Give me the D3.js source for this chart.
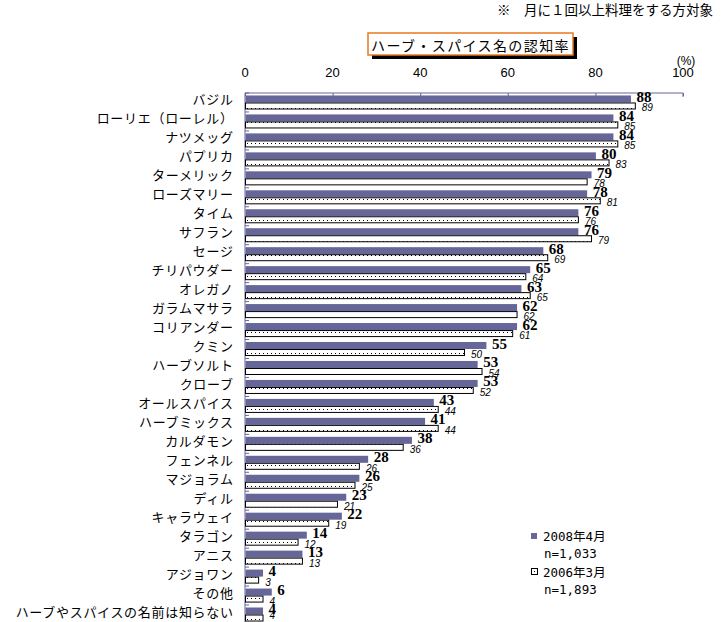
<!DOCTYPE html>
<html><head><meta charset="utf-8">
<script src="https://cdn.jsdelivr.net/npm/d3@7"></script>
<style>
body{margin:0;background:#fff;}
svg{display:block;}
</style></head>
<body>
<script>
const categories = ["バジル","ローリエ（ローレル）","ナツメッグ","パプリカ","ターメリック","ローズマリー","タイム","サフラン","セージ","チリパウダー","オレガノ","ガラムマサラ","コリアンダー","クミン","ハーブソルト","クローブ","オールスパイス","ハーブミックス","カルダモン","フェンネル","マジョラム","ディル","キャラウェイ","タラゴン","アニス","アジョワン","その他","ハーブやスパイスの名前は知らない"];
const values2008 = [88,84,84,80,79,78,76,76,68,65,63,62,62,55,53,53,43,41,38,28,26,23,22,14,13,4,6,4];
const values2006 = [89,85,85,83,78,81,76,79,69,64,65,62,61,50,54,52,44,44,36,26,25,21,19,12,13,3,4,4];
const seriesNames = ["2008年4月","2006年3月"];
const seriesN = ["n=1,033","n=1,893"];
const xTicks = [0,20,40,60,80,100];
const titleText = "ハーブ・スパイス名の認知率";
const noteText = "※　月に１回以上料理をする方対象";

const W = 721, H = 622;
const jp = "'Noto Sans CJK JP', 'Noto Sans', sans-serif";
const mono = "'DejaVu Sans Mono', 'Liberation Mono', 'Noto Sans CJK JP', monospace";
const svg = d3.select("body").append("svg").attr("width", W).attr("height", H);

const defs = svg.append("defs");
const pat = defs.append("pattern").attr("id","dots").attr("patternUnits","userSpaceOnUse")
  .attr("width",4).attr("height",7).attr("x",246).attr("y",0);
pat.append("rect").attr("width",4).attr("height",7).attr("fill","#fff");
pat.append("rect").attr("x",1).attr("y",3).attr("width",1).attr("height",1).attr("fill","#000");

const x = d3.scaleLinear().domain([0,100]).range([245,683]);
const y = d3.scaleBand().domain(categories).range([93,624]).paddingInner(0.26).paddingOuter(0.13);
const ys = d3.scaleBand().domain([0,1]).range([0,y.bandwidth()]);
const axisColor = "#666699";
const blue = "#666699";

// note
svg.append("text").attr("x",497).attr("y",9).attr("dominant-baseline","central")
  .style("font-family",jp).style("font-size","13.5px").attr("fill","#000").text(noteText);

// title box
svg.append("rect").attr("x",372).attr("y",37).attr("width",205).attr("height",22).attr("fill","#000");
svg.append("rect").attr("x",368).attr("y",33).attr("width",205).attr("height",22).attr("fill","#fff")
  .attr("stroke","#e87a22").attr("stroke-width",1.5);
svg.append("text").attr("x",470.5).attr("y",44.5).attr("text-anchor","middle").attr("dominant-baseline","central")
  .style("font-family",jp).style("font-size","14px").style("letter-spacing","1.4px").attr("fill","#000").text(titleText);

// top axis
const gx = svg.append("g").attr("transform","translate(0,93)")
  .call(d3.axisBottom(x).tickValues(xTicks).tickSize(3).tickFormat(""));
gx.select(".domain").remove();
gx.selectAll("line").attr("stroke",axisColor);
svg.append("line").attr("x1",245).attr("x2",683).attr("y1",93).attr("y2",93).attr("stroke",axisColor);
svg.append("line").attr("x1",683).attr("x2",683).attr("y1",93).attr("y2",97).attr("stroke",axisColor);
svg.append("g").selectAll("text").data(xTicks).join("text")
  .attr("x",d=>x(d)).attr("y",72).attr("text-anchor","middle").attr("dominant-baseline","central")
  .style("font-family","'Liberation Sans', Arial, sans-serif").style("font-size","13px").attr("fill","#000")
  .text(d=>d);
svg.append("text").attr("x",686).attr("y",61).attr("text-anchor","middle").attr("dominant-baseline","central")
  .style("font-family","'Liberation Sans', Arial, sans-serif").style("font-size","12px").attr("fill","#000").text("(%)");

// y axis
svg.append("line").attr("x1",245).attr("x2",245).attr("y1",93).attr("y2",624).attr("stroke",axisColor);
svg.append("g").selectAll("line").data(d3.range(categories.length+1)).join("line")
  .attr("x1",245).attr("x2",249)
  .attr("y1",i=>93 + i*y.step()).attr("y2",i=>93 + i*y.step())
  .attr("stroke",axisColor);

// category labels
svg.append("g").selectAll("text").data(categories).join("text")
  .attr("x",233.7).attr("y",d=>y(d)+y.bandwidth()/2-3.5)
  .attr("text-anchor","end").attr("dominant-baseline","central")
  .style("font-family",jp).style("font-size","13px").style("letter-spacing","0.7px")
  .attr("fill","#000").text(d=>d);

// bars
const g = svg.append("g");
g.selectAll("rect.b08").data(categories).join("rect").attr("class","b08")
  .attr("x",x(0)+0.5).attr("y",(d)=>y(d)+ys(0))
  .attr("width",(d,i)=>x(values2008[i])-x(0)).attr("height",ys.bandwidth())
  .attr("fill",blue);
g.selectAll("rect.b06").data(categories).join("rect").attr("class","b06")
  .attr("x",x(0)+0.5).attr("y",(d)=>y(d)+ys(1)+0.5)
  .attr("width",(d,i)=>x(values2006[i])-x(0)).attr("height",ys.bandwidth()-1)
  .attr("fill","url(#dots)").attr("stroke","#000").attr("stroke-width",1);

// value labels
g.selectAll("text.v08").data(categories).join("text").attr("class","v08")
  .attr("x",(d,i)=>x(values2008[i])+6).attr("y",d=>y(d)+ys(0)+ys.bandwidth()/2-2)
  .attr("dominant-baseline","central")
  .style("font-family","'Liberation Serif', 'Times New Roman', serif").style("font-weight","bold").style("font-size","15px")
  .attr("fill","#000").text((d,i)=>values2008[i]);
g.selectAll("text.v06").data(categories).join("text").attr("class","v06")
  .attr("x",(d,i)=>x(values2006[i])+7).attr("y",d=>Math.min(y(d)+ys(1)+ys.bandwidth()/2+2, H-7))
  .attr("dominant-baseline","central")
  .style("font-family","'Liberation Sans', Arial, sans-serif").style("font-style","italic").style("font-size","10px")
  .attr("fill","#000").text((d,i)=>values2006[i]);

// legend
const lg = svg.append("g");
lg.append("rect").attr("x",531).attr("y",533).attr("width",6).attr("height",6).attr("fill",blue);
lg.append("text").attr("x",543).attr("y",536).attr("dominant-baseline","central")
  .style("font-family",mono).style("font-size","12.5px").attr("fill","#000").text(seriesNames[0]);
lg.append("text").attr("x",544).attr("y",553).attr("dominant-baseline","central")
  .style("font-family",mono).style("font-size","12.5px").attr("fill","#000").text(seriesN[0]);
lg.append("rect").attr("x",531.5).attr("y",568.5).attr("width",6).attr("height",6).attr("fill","#fff").attr("stroke","#000");
lg.append("rect").attr("x",534).attr("y",571).attr("width",1).attr("height",1).attr("fill","#000");
lg.append("text").attr("x",543).attr("y",572).attr("dominant-baseline","central")
  .style("font-family",mono).style("font-size","12.5px").attr("fill","#000").text(seriesNames[1]);
lg.append("text").attr("x",544).attr("y",589).attr("dominant-baseline","central")
  .style("font-family",mono).style("font-size","12.5px").attr("fill","#000").text(seriesN[1]);
</script>
</body></html>
